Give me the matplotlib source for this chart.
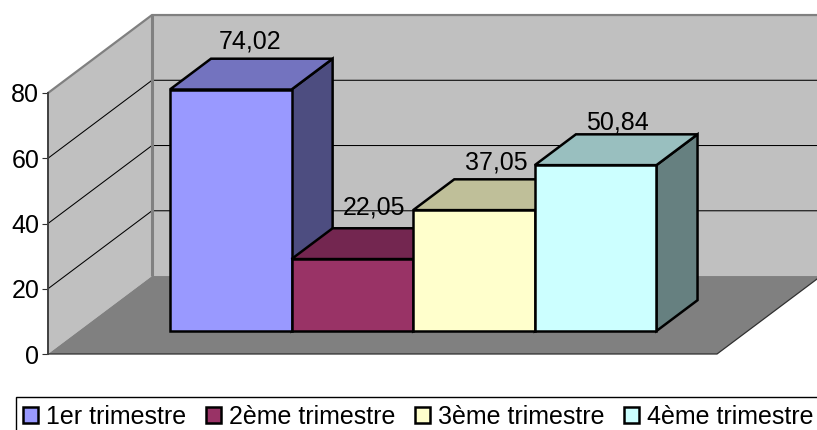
import matplotlib
matplotlib.use('Agg')
import matplotlib.pyplot as plt
from matplotlib.patches import Polygon, Patch

plt.rcParams['font.family'] = ['Liberation Sans', 'DejaVu Sans']

# data
series_names = ['1er trimestre', '2ème trimestre', '3ème trimestre', '4ème trimestre']
values = [74.02, 22.05, 37.05, 50.84]
y_ticks = [0, 20, 40, 60, 80]

# front, top and side colours of each bar
front_colors = ['#9999FF', '#993366', '#FFFFCC', '#CCFFFF']
top_colors = ['#7373BF', '#732650', '#BFBF99', '#99BFBF']
side_colors = ['#4D4D80', '#4D1A33', '#808066', '#668080']

# the fake 3d: depth 0 is the front of the floor, depth 1 the back wall
DEPTH_X = 0.855		#in bar widths
DEPTH_Y = 23.9		#in value units
BAR_FRONT = 0.295
BAR_BACK = 0.69
MARGIN = 0.75

# small nudges of the value labels, in points
label_dx = [-1, 1, 1, 1]
label_dy = [7, 10, 7, 3.5]

WALL = '#C0C0C0'
FLOOR = '#808080'
EDGE = '#808080'
BAR_LW = 1.8


# projects a (bar position, value, depth) point into the axes data space
def project(x, v, d):
	return (x + d * DEPTH_X, v + d * DEPTH_Y)


def face(ax, corners, color, edge=None, lw=0, zorder=2):
	pts = [project(*c) for c in corners]
	ax.add_patch(Polygon(pts, closed=True, facecolor=color, edgecolor=edge or 'none',
		linewidth=lw, joinstyle='miter', clip_on=False, zorder=zorder))


def line(ax, corners, color, lw, zorder=1.5):
	pts = [project(*c) for c in corners]
	ax.plot([p[0] for p in pts], [p[1] for p in pts], color=color, lw=lw,
		solid_capstyle='butt', solid_joinstyle='miter', clip_on=False, zorder=zorder)


fig = plt.figure(figsize=(8.17, 4.30), dpi=100)
ax = fig.add_axes([48 / 817, 76 / 430, 669 / 817, 261 / 430])
ax.set_xlim(-MARGIN, len(values) + MARGIN)
ax.set_ylim(y_ticks[0], y_ticks[-1])
ax.patch.set_visible(False)

x0 = -MARGIN
x1 = len(values) + MARGIN
top = y_ticks[-1]

# walls and floor
face(ax, [(x0, 0, 0), (x0, top, 0), (x0, top, 1), (x0, 0, 1)], WALL, zorder=1)
face(ax, [(x0, 0, 1), (x0, top, 1), (x1, top, 1), (x1, 0, 1)], WALL, zorder=1)
face(ax, [(x0, 0, 0), (x0, 0, 1), (x1, 0, 1), (x1, 0, 0)], FLOOR, zorder=1.2)

# gridlines run along the side wall then along the back wall
for v in y_ticks[1:-1]:
	line(ax, [(x0, v, 0), (x0, v, 1), (x1, v, 1)], 'black', 0.75)

# wall borders
line(ax, [(x0, top, 0), (x0, top, 1), (x1, top, 1)], EDGE, 1.6)
line(ax, [(x0, 0, 1), (x0, top, 1)], EDGE, 2.2)
line(ax, [(x0, 0, 0), (x1, 0, 0), (x1, 0, 1)], '#303030', 0.9, zorder=1.3)

# bars, left to right so the next bar hides what is behind it
for i, v in enumerate(values):
	a, b = i, i + 1
	face(ax, [(b, 0, BAR_FRONT), (b, v, BAR_FRONT), (b, v, BAR_BACK), (b, 0, BAR_BACK)],
		side_colors[i], 'black', BAR_LW, zorder=3 + i)
	face(ax, [(a, v, BAR_FRONT), (a, v, BAR_BACK), (b, v, BAR_BACK), (b, v, BAR_FRONT)],
		top_colors[i], 'black', BAR_LW, zorder=3 + i)
	face(ax, [(a, 0, BAR_FRONT), (a, v, BAR_FRONT), (b, v, BAR_FRONT), (b, 0, BAR_FRONT)],
		front_colors[i], 'black', BAR_LW, zorder=3 + i)

# value labels, decimal comma like the original
for i, v in enumerate(values):
	px, py = project(i + 0.5, v, BAR_BACK)
	px = px - (BAR_BACK - BAR_FRONT) * DEPTH_X / 2
	ax.annotate(('%.2f' % v).replace('.', ','), (px, py), xytext=(label_dx[i], label_dy[i]),
		textcoords='offset points', ha='center', va='baseline', fontsize=18,
		color='black', zorder=20, annotation_clip=False)

# y axis
for name in ['top', 'right', 'bottom']:
	ax.spines[name].set_visible(False)
ax.spines['left'].set_color('#404040')
ax.spines['left'].set_linewidth(1.4)
ax.set_xticks([])
ax.set_yticks(y_ticks)
ax.tick_params(axis='y', length=4, width=0.8, color='#303030', pad=2.3, labelsize=18)

# legend box runs off the right and bottom of the picture
handles = [Patch(facecolor=c, edgecolor='black', linewidth=BAR_LW) for c in front_colors]
fig.legend(handles, series_names, loc='upper left', ncol=4,
	bbox_to_anchor=(16 / 817, 1 - 397 / 430), bbox_transform=fig.transFigure,
	borderaxespad=0, fontsize=18, frameon=True, fancybox=False, framealpha=1,
	edgecolor='black', borderpad=0.3, handlelength=0.6, handleheight=0.6,
	handletextpad=0.32, columnspacing=0.78)

fig.savefig('out.png', dpi=100)
